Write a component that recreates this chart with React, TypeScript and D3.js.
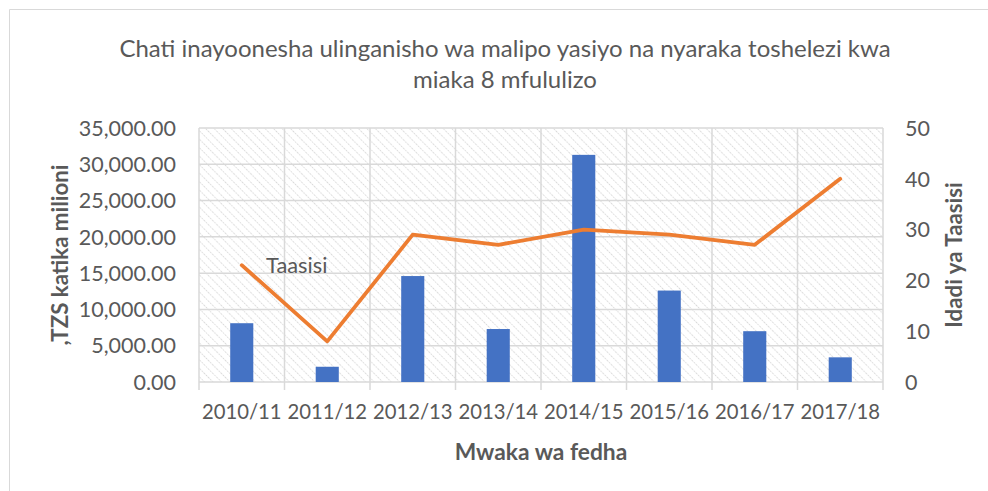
import React from "react";
import * as d3 from "d3";

const categories = ["2010/11", "2011/12", "2012/13", "2013/14", "2014/15", "2015/16", "2016/17", "2017/18"];
const amounts = [8100, 2100, 14600, 7300, 31300, 12600, 7000, 3400];
const institutions = [23, 8, 29, 27, 30, 29, 27, 40];
const leftTicks = [0, 5000, 10000, 15000, 20000, 25000, 30000, 35000];
const rightTicks = [0, 10, 20, 30, 40, 50];
const titleLines = ["Chati inayoonesha ulinganisho wa malipo yasiyo na nyaraka toshelezi kwa", "miaka 8 mfululizo"];

const W = 988, H = 491;
const plot = { left: 199, right: 883, top: 128, bottom: 382 };
const FONT = "Lato, 'Open Sans', sans-serif";
const GRAY = "#595959";

export default function App() {
  const x = d3.scaleBand().domain(categories).range([plot.left, plot.right]).paddingInner(0.73).paddingOuter(0.365);
  const xc = d3.scaleBand().domain(categories).range([plot.left, plot.right]);
  const yL = d3.scaleLinear().domain([0, 35000]).range([plot.bottom, plot.top]);
  const yR = d3.scaleLinear().domain([0, 50]).range([plot.bottom, plot.top]);
  const fmt = d3.format(",.2f");
  const line = d3.line<number>().x((_, i) => (xc(categories[i]) as number) + xc.bandwidth() / 2).y((d) => yR(d));
  const bounds = [...categories.map((c) => xc(c) as number), plot.right];

  return (
    <svg width={W} height={H} style={{ position: "absolute", left: 0, top: 0, background: "#fff" }} fontFamily={FONT}>
      <defs>
        <pattern id="hatch" width="6" height="6" patternUnits="userSpaceOnUse" patternTransform="rotate(-45)">
          <line x1="0" y1="0" x2="0" y2="6" stroke="#d2d2d2" strokeWidth="1.7" strokeDasharray="1.5 1.2" />
        </pattern>
      </defs>
      <rect x={0} y={0} width={W} height={H} fill="#fff" />
      <path d={`M9.5,${H + 5} V9.5 H${W + 5}`} fill="none" stroke="#d9d9d9" strokeWidth={1} />
      {titleLines.map((t, i) => (
        <text key={i} x={505} y={57 + i * 31} textAnchor="middle" fontSize={24} fill={GRAY}>{t}</text>
      ))}
      <rect x={plot.left} y={plot.top} width={plot.right - plot.left} height={plot.bottom - plot.top} fill="url(#hatch)" />
      {leftTicks.map((t) => (
        <line key={t} x1={plot.left} x2={plot.right} y1={yL(t)} y2={yL(t)} stroke="#d9d9d9" strokeWidth={1.5} />
      ))}
      {bounds.map((b, i) => (
        <line key={i} x1={b} x2={b} y1={plot.top} y2={plot.bottom + 8} stroke="#d9d9d9" strokeWidth={1.5} />
      ))}
      {categories.map((c, i) => (
        <rect key={c} x={x(c)} y={yL(amounts[i])} width={x.bandwidth()} height={plot.bottom - yL(amounts[i])} fill="#4472c4" />
      ))}
      <path d={line(institutions) || ""} fill="none" stroke="#ed7d31" strokeWidth={3.8} strokeLinejoin="round" strokeLinecap="round" />
      <text x={266} y={273} fontSize={21.8} fill={GRAY}>Taasisi</text>
      {leftTicks.map((t) => (
        <text key={t} x={176} y={yL(t)} dy="0.36em" textAnchor="end" fontSize={21.5} fill={GRAY}>{fmt(t)}</text>
      ))}
      {rightTicks.map((t) => (
        <text key={t} x={905} y={yR(t)} dy="0.36em" textAnchor="start" fontSize={21.5} fill={GRAY}>{t}</text>
      ))}
      {categories.map((c) => (
        <text key={c} x={(xc(c) as number) + xc.bandwidth() / 2} y={419} textAnchor="middle" fontSize={20.3} fill={GRAY}>{c}</text>
      ))}
      <text x={541} y={460} textAnchor="middle" fontSize={22.8} fontWeight="bold" fill={GRAY}>Mwaka wa fedha</text>
      <text transform="translate(68,255) rotate(-90)" textAnchor="middle" fontSize={22.3} fontWeight="bold" fill={GRAY}>,TZS katika milioni</text>
      <text transform="translate(962,255) rotate(-90)" textAnchor="middle" fontSize={22.3} fontWeight="bold" fill={GRAY}>Idadi ya Taasisi</text>
    </svg>
  );
}
